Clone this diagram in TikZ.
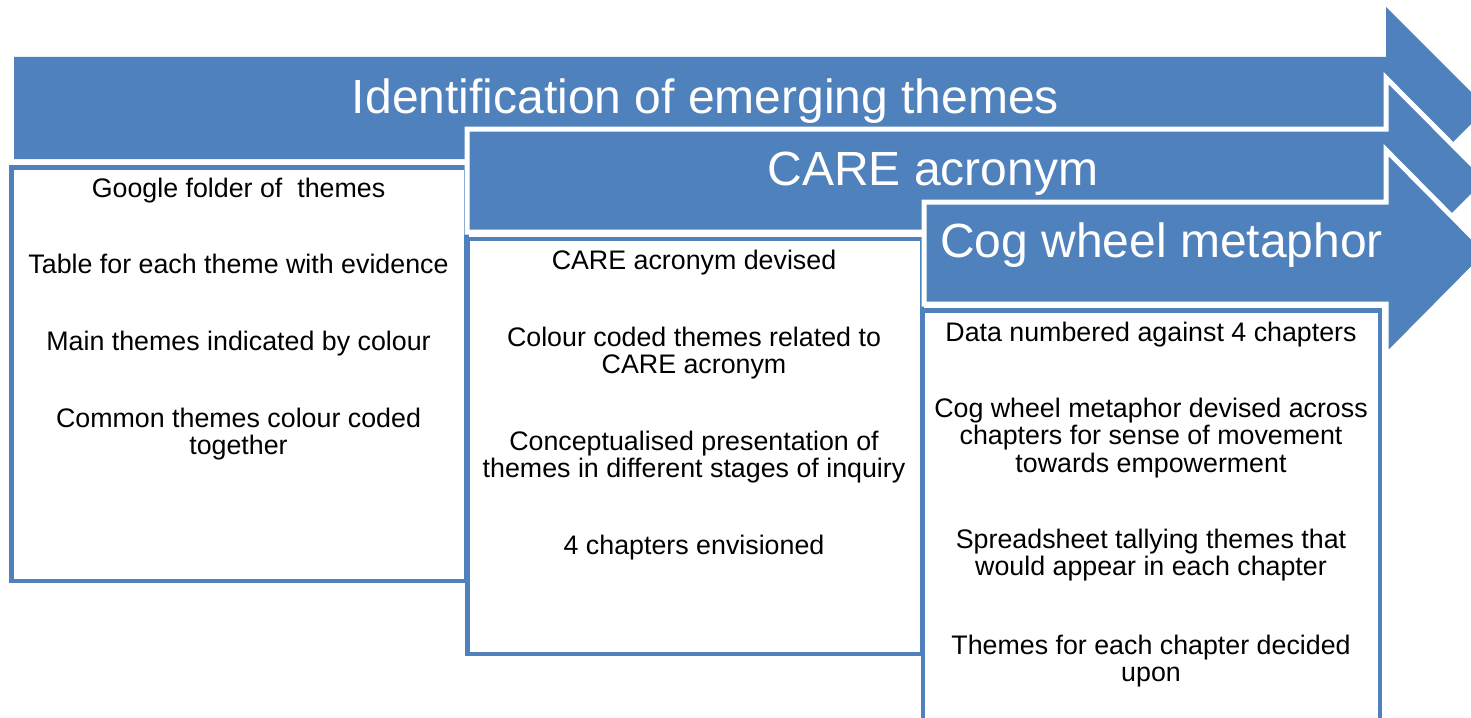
\documentclass[tikz,border=0pt]{standalone}
\usepackage{fontspec}
\setmainfont{Liberation Sans}
\definecolor{officeblue}{RGB}{79,129,189}
\begin{document}
\begin{tikzpicture}[x=1pt,y=-1pt,
  arrowshape/.style={fill=officeblue,draw=white,line width=5pt,line join=miter},
  firstarrow/.style={fill=officeblue,draw=none},
  listbox/.style={fill=white,draw=officeblue,line width=4.5pt},
  title/.style={text=white,font=\fontsize{48}{56}\selectfont,anchor=base,inner sep=0pt},
  body/.style={text=black,font=\fontsize{26.8}{28}\selectfont,anchor=base,inner sep=0pt}]
\useasboundingbox (0,0) rectangle (1471,717);
\clip (0,0) rectangle (1471,717);
% arrow 1
\fill[firstarrow] (14,57) -- (1386,57) -- (1386,7) -- (1487,108) -- (1386,209) -- (1386,159) -- (14,159) -- cycle;
\node[title] (t1) at (705.5,113) {Identification of emerging themes};
% box 1
\draw[listbox] (11.5,167.5) rectangle (466.5,581);
% arrow 2
\draw[arrowshape] (467,129) -- (1386,129) -- (1386,78) -- (1488,180.5) -- (1386,283) -- (1386,232) -- (467,232) -- cycle;
\node[title] (t2) at (933,185) {CARE acronym};
% box 2
\draw[listbox] (467.5,239) rectangle (922,654);
% arrow 3
\draw[arrowshape] (924,202) -- (1386,202) -- (1386,150) -- (1488,253) -- (1386,356) -- (1386,304) -- (924,304) -- cycle;
\node[title] (t3) at (1161.5,257) {Cog wheel metaphor};
% box 3
\draw[listbox] (923,310.5) rectangle (1380,760);
% box 1 text
\node[body] (a1) at (238.5,197) {Google folder of\ \ themes};
\node[body] (a2) at (238.5,273) {Table for each theme with evidence};
\node[body] (a3) at (238.5,350) {Main themes indicated by colour};
\node[body] (a4) at (238.5,427) {Common themes colour coded};
\node[body] (a5) at (238.5,454.5) {together};
% box 2 text
\node[body] (b1) at (694,269) {CARE acronym devised};
\node[body] (b2) at (694,346) {Colour coded themes related to};
\node[body] (b3) at (694,373) {CARE acronym};
\node[body] (b4) at (694,450) {Conceptualised presentation of};
\node[body] (b5) at (694,477) {themes in different stages of inquiry};
\node[body] (b6) at (694,554) {4 chapters envisioned};
% box 3 text
\node[body] (c1) at (1151,341) {Data numbered against 4 chapters};
\node[body] (c2) at (1151,417) {Cog wheel metaphor devised across};
\node[body] (c3) at (1151,444.5) {chapters for sense of movement};
\node[body] (c4) at (1151,472) {towards empowerment};
\node[body] (c5) at (1151,548) {Spreadsheet tallying themes that};
\node[body] (c6) at (1151,575.5) {would appear in each chapter};
\node[body] (c7) at (1151,654) {Themes for each chapter decided};
\node[body] (c8) at (1151,681.5) {upon};
\end{tikzpicture}
\end{document}
